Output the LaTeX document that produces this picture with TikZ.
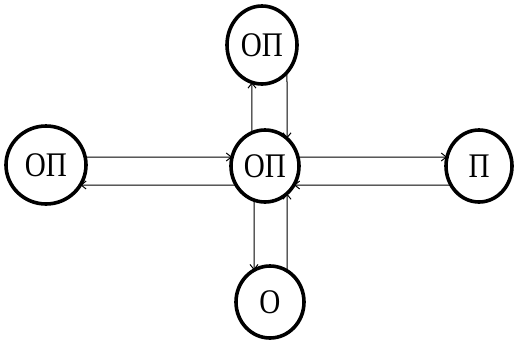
\documentclass[tikz,border=0pt]{standalone}
\usepackage{fontspec}
\usepackage{graphicx}
\setmainfont{Liberation Serif}
\usetikzlibrary{shapes.geometric,intersections,arrows.meta}
% state labels are set slightly tall and narrow
\newcommand\statelabel[1]{\scalebox{0.97}[1.15]{#1}}
\begin{document}
\begin{tikzpicture}[x=1pt,y=-1pt,
  state/.style={ellipse,draw,line width=3.6pt,inner sep=0pt,fill=white,
    font=\fontsize{30}{30}\selectfont},
  arr/.style={-{Straight Barb[length=5pt,width=8pt]},line width=1pt}]
\useasboundingbox (0,0) rectangle (516,341);

% states
\node[state,minimum width=70pt,minimum height=78pt,name path=pT] (T) at (262,45) {\statelabel{ОП}};
\node[state,minimum width=68pt,minimum height=72pt,name path=pC] (C) at (265,166) {\statelabel{ОП}};
\node[state,minimum width=80pt,minimum height=78pt,name path=pL] (L) at (46,165) {\statelabel{ОП}};
\node[state,minimum width=66pt,minimum height=72pt,name path=pR] (R) at (479,166) {\statelabel{П}};
\node[state,minimum width=68pt,minimum height=72pt,name path=pB] (B) at (270,302) {\statelabel{О}};

% guide lines along which the connectors run
\path[name path=gU] (L.center |- 0,157) -- (R.center |- 0,157);
\path[name path=gD] (L.center |- 0,185) -- (R.center |- 0,185);
\path[name path=gTL] (T.center -| 252,0) -- (C.center -| 252,0);
\path[name path=gTR] (T.center -| 287,0) -- (C.center -| 287,0);
\path[name path=gBL] (C.center -| 254,0) -- (B.center -| 254,0);
\path[name path=gBR] (C.center -| 287,0) -- (B.center -| 287,0);

% border points
\path[name intersections={of=pL and gU,name=uL}];
\path[name intersections={of=pC and gU,name=uC,sort by=gU}];
\path[name intersections={of=pR and gU,name=uR}];
\path[name intersections={of=pL and gD,name=dL}];
\path[name intersections={of=pC and gD,name=dC,sort by=gD}];
\path[name intersections={of=pR and gD,name=dR}];
\path[name intersections={of=pT and gTL,name=tlT}];
\path[name intersections={of=pC and gTL,name=tlC}];
\path[name intersections={of=pT and gTR,name=trT}];
\path[name intersections={of=pC and gTR,name=trC}];
\path[name intersections={of=pC and gBL,name=blC}];
\path[name intersections={of=pB and gBL,name=blB}];
\path[name intersections={of=pC and gBR,name=brC}];
\path[name intersections={of=pB and gBR,name=brB}];

% connectors
\draw[arr] (uL-1) -- (uC-1);
\draw[arr] (dC-1) -- (dL-1);
\draw[arr] (uC-2) -- (uR-1);
\draw[arr] (dR-1) -- (dC-2);
\draw[arr] (tlC-1) -- (tlT-1);
\draw[arr] (trT-1) -- (trC-1);
\draw[arr] (blC-1) -- (blB-1);
\draw[arr] (brB-1) -- (brC-1);
\end{tikzpicture}
\end{document}
